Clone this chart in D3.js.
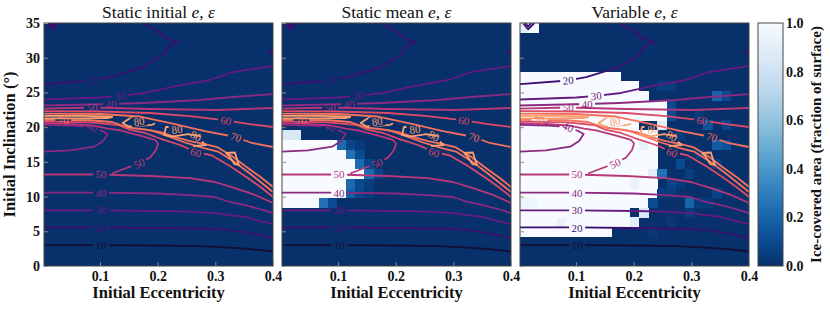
<!DOCTYPE html>
<html>
<head>
<meta charset="utf-8">
<script src="https://cdn.jsdelivr.net/npm/d3@7"></script>
<style>
body { margin: 0; background: #fff; }
text { font-family: "Liberation Serif", "Times New Roman", serif; }
</style>
</head>
<body>
<svg id="chart" width="830" height="310"></svg>
<script>
// ---- data ----
var panelTitles = ["Static initial", "Static mean", "Variable"];
var eccTicks = [0.1, 0.2, 0.3, 0.4];
var incTicks = [0, 5, 10, 15, 20, 25, 30, 35];
var iceTicks = [0.0, 0.2, 0.4, 0.6, 0.8, 1.0];
var eccDomain = [0.003, 0.4];
var incDomain = [0, 35];
var nCells = 25; // 25 x 25 simulation grid

// ice cover cells: [row (from bottom), firstCol, lastCol, fraction]
var initialCells = [];
var meanCells = [
    [6, 0, 3, 1], [6, 4, 4, 0.25], [6, 5, 5, 0.1],
    [7, 0, 6, 1], [7, 7, 7, 0.18], [7, 8, 8, 0.08], [7, 9, 9, 0.04],
    [8, 0, 6, 1], [8, 7, 7, 0.22], [8, 8, 8, 0.1], [8, 9, 9, 0.05],
    [9, 0, 8, 1], [9, 9, 9, 0.22], [9, 10, 10, 0.07],
    [10, 0, 7, 1], [10, 8, 8, 0.22], [10, 9, 9, 0.08],
    [11, 0, 6, 1], [11, 7, 7, 0.25], [11, 8, 8, 0.1],
    [12, 0, 5, 1], [12, 6, 6, 0.22], [12, 7, 7, 0.08], [12, 8, 8, 0.04],
    [13, 0, 1, 0.85]
];
var variableCells = [
    [3, 0, 9, 1], [3, 14, 14, 0.03],
    [4, 0, 11, 1], [4, 4, 4, 0.93], [4, 12, 12, 0.9], [4, 16, 16, 0.03],
    [5, 0, 11, 1], [5, 13, 13, 0.85], [5, 18, 18, 0.04],
    [6, 0, 13, 1], [6, 0, 1, 0.95], [6, 14, 14, 0.1], [6, 18, 18, 0.2], [6, 19, 20, 0.04],
    [7, 0, 14, 1], [7, 15, 16, 0.05], [7, 21, 21, 0.07],
    [8, 0, 14, 1], [8, 12, 12, 0.93], [8, 16, 16, 0.07], [8, 17, 17, 0.04],
    [9, 0, 14, 1], [9, 14, 14, 0.9], [9, 15, 15, 0.25], [9, 18, 18, 0.05],
    [10, 0, 14, 1], [10, 17, 17, 0.1], [10, 21, 21, 0.05],
    [11, 0, 14, 1], [11, 19, 19, 0.04],
    [12, 0, 14, 1], [12, 13, 13, 0.92], [12, 21, 21, 0.17], [12, 22, 22, 0.13],
    [13, 0, 14, 1], [13, 17, 17, 0.04],
    [14, 0, 12, 1], [14, 15, 15, 0.9], [14, 20, 20, 0.13], [14, 22, 22, 0.08],
    [15, 0, 15, 1], [15, 16, 16, 0.1], [15, 19, 19, 0.04],
    [16, 0, 15, 1], [16, 16, 16, 0.1],
    [17, 0, 13, 1], [17, 21, 21, 0.2], [17, 22, 22, 0.1],
    [18, 0, 12, 1], [18, 15, 16, 0.05],
    [19, 0, 10, 1],
    [24, 0, 0, 0.9], [24, 1, 1, 1]
];
var panelCells = [initialCells, meanCells, variableCells];

// contour lines (same field in every panel): points are [eccentricity, inclination]
// labs: [e, i, rotation]
var contours = [
    {level: 10, pts: [[0.003, 3.0], [0.1, 3.0], [0.2, 2.95], [0.273, 2.85], [0.325, 2.66], [0.36, 2.45], [0.4, 2.09]], labs: [[0.102, 2.95, 0]]},
    {level: 20, pts: [[0.003, 5.55], [0.1, 5.55], [0.2, 5.47], [0.273, 5.40], [0.325, 5.19], [0.36, 4.75], [0.4, 4.03]], labs: [[0.102, 5.47, 0]]},
    {level: 30, pts: [[0.003, 8.02], [0.1, 8.02], [0.2, 7.92], [0.249, 7.85], [0.299, 7.63], [0.351, 7.06], [0.377, 6.48], [0.4, 6.05]], labs: [[0.102, 8.0, 0]]},
    {level: 40, pts: [[0.003, 10.56], [0.1, 10.56], [0.2, 10.44], [0.249, 10.23], [0.299, 9.94], [0.325, 9.22], [0.35, 8.79], [0.377, 8.21], [0.4, 7.63]], labs: [[0.102, 10.51, 0]]},
    {level: 50, pts: [[0.003, 13.18], [0.1, 13.18], [0.187, 12.96], [0.256, 12.67], [0.299, 12.10], [0.334, 11.23], [0.369, 10.23], [0.4, 9.07]], labs: [[0.102, 13.18, 0]]},
    {level: 50, pts: [[0.1211, 13.32], [0.1436, 14.04], [0.1678, 14.76], [0.1869, 15.63], [0.1972, 16.71], [0.2007, 17.64], [0.1955, 18.15], [0.1696, 18.79], [0.1349, 19.52], [0.1142, 19.80], [0.0865, 20.24], [0.0484, 20.45], [0.003, 20.57]], labs: [[0.168, 14.76, -25]]},
    {level: 40, pts: [[0.003, 16.46], [0.048, 16.64], [0.09, 17.18], [0.1055, 18.0], [0.1133, 19.01], [0.1038, 19.44], [0.0865, 20.02], [0.048, 20.24], [0.003, 20.34]], labs: [[0.0865, 20.02, 25]]},
    {level: 60, pts: [[0.003, 20.84], [0.083, 20.70], [0.1315, 20.31], [0.1522, 19.59], [0.1782, 19.16], [0.2042, 18.36], [0.2388, 17.43], [0.2664, 16.42], [0.2941, 15.92], [0.3253, 14.40], [0.3564, 12.67], [0.3806, 11.23], [0.4, 9.94]], labs: [[0.2664, 16.35, 17]]},
    {level: 70, pts: [[0.003, 21.06], [0.083, 20.99], [0.1211, 20.74], [0.1488, 19.95], [0.1782, 19.66], [0.2076, 19.23], [0.2353, 18.44], [0.2561, 18.0], [0.282, 17.57], [0.3045, 17.07], [0.3287, 15.84], [0.3564, 14.12], [0.3806, 12.67], [0.4, 11.38]], labs: [[0.0363, 21.05, 0]]},
    {level: 70, pts: [[0.1869, 19.59], [0.2145, 18.80], [0.2474, 17.79], [0.2785, 17.0], [0.3045, 16.49], [0.3322, 15.05], [0.3599, 13.32], [0.3806, 11.95], [0.4, 10.66]], labs: []},
    {level: 80, pts: [[0.003, 21.63], [0.0657, 21.63], [0.1142, 21.56], [0.1211, 21.46], [0.1142, 21.32], [0.0657, 21.27], [0.003, 21.27]], labs: []},
    {level: 20, pts: [[0.003, 26.21], [0.0865, 26.72], [0.1176, 27.22], [0.1747, 28.66], [0.2093, 30.39], [0.2215, 31.83], [0.2353, 32.19], [0.218, 32.70], [0.199, 33.85], [0.1747, 35.0]], labs: [[0.0865, 26.72, -5]]},
    {level: 20, pts: [[0.008, 35], [0.017, 34.1], [0.028, 35]], labs: []},
    {level: 20, pts: [[0.012, 35], [0.017, 34.5], [0.023, 35]], labs: []},
    {level: 20, pts: [[0.4, 31.1], [0.394, 30.8], [0.4, 30.4]], labs: []},
    {level: 30, pts: [[0.003, 23.98], [0.1003, 24.27], [0.1349, 24.49], [0.1782, 24.92], [0.2336, 25.93], [0.2907, 26.79], [0.3304, 27.94], [0.4, 28.81]], labs: [[0.1349, 24.49, -5]]},
    {level: 40, pts: [[0.003, 23.12], [0.1176, 23.33], [0.1747, 23.48], [0.2734, 23.91], [0.3304, 24.34], [0.4, 24.77]], labs: [[0.1194, 23.28, -2]]},
    {level: 50, pts: [[0.003, 22.68], [0.0865, 22.83], [0.1869, 22.61], [0.3028, 22.47], [0.4, 22.76]], labs: [[0.0865, 22.83, 0]]},
    {level: 60, pts: [[0.003, 22.32], [0.1003, 22.25], [0.1869, 22.04], [0.2561, 21.60], [0.3183, 20.96], [0.3599, 20.45], [0.4, 20.02]], labs: [[0.3183, 20.92, 8]]},
    {level: 70, pts: [[0.003, 21.96], [0.1003, 21.89], [0.1696, 21.53], [0.2301, 20.45], [0.282, 19.44], [0.3356, 18.58], [0.3633, 17.72], [0.4, 17.14]], labs: [[0.3356, 18.55, 18]]},
    {level: 80, pts: [[0.1799, 20.81], [0.154, 21.39], [0.1393, 20.60], [0.1497, 20.09], [0.1903, 20.34], [0.1955, 20.52]], labs: [[0.1678, 20.81, -8]]},
    {level: 80, pts: [[0.2353, 20.09], [0.2145, 20.02], [0.2111, 18.87], [0.2249, 18.65], [0.2526, 19.01], [0.2734, 18.72]], labs: [[0.2336, 19.66, -8]]},
    {level: 80, pts: [[0.2612, 17.28], [0.2837, 17.43], [0.2751, 18.0]], labs: [[0.2664, 18.72, 28]]},
    {level: 80, pts: [[0.3183, 16.28], [0.3339, 16.35], [0.3408, 14.55], [0.333, 14.69], [0.3235, 15.92], [0.3183, 16.28]], labs: []}
];

// ---- layout ----
var width = 229, height = 243, panelTop = 23;
var panelLeft = [44, 282, 520];
var barLeft = 758, barWidth = 25;

var svg = d3.select("#chart");
var defs = svg.append("defs");

var x = d3.scaleLinear().domain(eccDomain).range([0, width]);
var y = d3.scaleLinear().domain(incDomain).range([height, 0]);
var ice = function (v) { return d3.interpolateBlues(1 - v); };
var levelColor = function (l) { return d3.interpolateMagma(l / 100); };

var eEdges = d3.range(nCells + 1).map(function (k) {
    return eccDomain[0] + k * (eccDomain[1] - eccDomain[0]) / nCells;
});
var iEdges = d3.range(nCells + 1).map(function (k) {
    return incDomain[0] + k * (incDomain[1] - incDomain[0]) / nCells;
});

function buildGrid(cells) {
    var g = d3.range(nCells).map(function () {
        return d3.range(nCells).map(function () { return 0; });
    });
    cells.forEach(function (c) {
        for (var k = c[1]; k <= c[2]; k++) g[c[0]][k] = c[3];
    });
    return g;
}

var line = d3.line()
    .x(function (d) { return x(d[0]); })
    .y(function (d) { return y(d[1]); });

defs.append("clipPath").attr("id", "clip")
    .append("rect").attr("width", width).attr("height", height);

// masks that break the contour lines under their labels
contours.forEach(function (c, ci) {
    if (!c.labs.length) return;
    var m = defs.append("mask").attr("id", "m" + ci)
        .attr("maskUnits", "userSpaceOnUse")
        .attr("x", -10).attr("y", -10)
        .attr("width", width + 20).attr("height", height + 20);
    m.append("rect").attr("x", -10).attr("y", -10)
        .attr("width", width + 20).attr("height", height + 20)
        .attr("fill", "white");
    c.labs.forEach(function (l) {
        var px = x(l[0]), py = y(l[1]);
        m.append("rect")
            .attr("x", px - 8).attr("y", py - 5)
            .attr("width", 16).attr("height", 10)
            .attr("transform", "rotate(" + l[2] + "," + px + "," + py + ")")
            .attr("fill", "black");
    });
});

panelTitles.forEach(function (title, pi) {
    var g = svg.append("g")
        .attr("transform", "translate(" + panelLeft[pi] + "," + panelTop + ")");

    var inner = g.append("g").attr("clip-path", "url(#clip)");
    inner.append("rect")
        .attr("width", width).attr("height", height)
        .attr("fill", ice(0));

    var grid = buildGrid(panelCells[pi]);
    var cellData = [];
    grid.forEach(function (row, r) {
        row.forEach(function (v, c) {
            if (v > 0) cellData.push({r: r, c: c, v: v});
        });
    });
    inner.selectAll(".cell")
        .data(cellData)
        .enter().append("rect")
        .attr("class", "cell")
        .attr("x", function (d) { return x(eEdges[d.c]); })
        .attr("y", function (d) { return y(iEdges[d.r + 1]); })
        .attr("width", function (d) { return x(eEdges[d.c + 1]) - x(eEdges[d.c]) + 0.4; })
        .attr("height", function (d) { return y(iEdges[d.r]) - y(iEdges[d.r + 1]) + 0.4; })
        .attr("fill", function (d) { return ice(d.v); })
        .attr("shape-rendering", "crispEdges");

    // contour lines
    inner.selectAll(".contour")
        .data(contours)
        .enter().append("path")
        .attr("class", "contour")
        .attr("d", function (d) { return line(d.pts); })
        .attr("mask", function (d, ci) { return d.labs.length ? "url(#m" + ci + ")" : null; })
        .style("fill", "none")
        .style("stroke", function (d) { return levelColor(d.level); })
        .style("stroke-width", 1.8)
        .style("stroke-linejoin", "round");

    contours.forEach(function (c) {
        c.labs.forEach(function (l) {
            var px = x(l[0]), py = y(l[1]);
            inner.append("text")
                .attr("x", px).attr("y", py)
                .attr("dy", "0.35em")
                .attr("text-anchor", "middle")
                .attr("transform", "rotate(" + l[2] + "," + px + "," + py + ")")
                .style("font-size", "11px")
                .style("fill", levelColor(c.level))
                .text(c.level);
        });
    });

    g.append("rect")
        .attr("width", width).attr("height", height)
        .attr("fill", "none")
        .attr("stroke", "#444")
        .attr("stroke-width", 1);

    // axes
    var xAxis = g.append("g")
        .attr("class", "x axis")
        .attr("transform", "translate(0," + height + ")")
        .call(d3.axisBottom(x).tickValues(eccTicks).tickSize(-4).tickPadding(5).tickFormat(d3.format(".1f")));
    var yAxis = g.append("g")
        .attr("class", "y axis")
        .call(d3.axisLeft(y).tickValues(incTicks).tickSize(-4).tickPadding(4)
            .tickFormat(pi === 0 ? d3.format("d") : function () { return ""; }));
    [xAxis, yAxis].forEach(function (a) {
        a.select(".domain").remove();
        a.selectAll("line").attr("stroke", "#8a8a8a");
        a.selectAll("text")
            .attr("fill", "#111")
            .style("font-size", "14px")
            .style("font-weight", "bold")
            .style("font-family", "'Liberation Serif', serif");
    });

    var t = g.append("text")
        .attr("x", width / 2).attr("y", -5)
        .attr("text-anchor", "middle")
        .style("font-size", "17.5px")
        .style("fill", "#111");
    t.append("tspan").text(title + " ");
    t.append("tspan").style("font-style", "italic").text("e");
    t.append("tspan").text(", ");
    t.append("tspan").style("font-style", "italic").text("ε");

    g.append("text")
        .attr("x", width / 2).attr("y", 275)
        .attr("text-anchor", "middle")
        .style("font-size", "16.5px")
        .style("font-weight", "bold")
        .style("fill", "#111")
        .text("Initial Eccentricity");
});

svg.append("text")
    .attr("transform", "translate(15," + (panelTop + height / 2) + ") rotate(-90)")
    .attr("text-anchor", "middle")
    .style("font-size", "16.5px")
    .style("font-weight", "bold")
    .style("fill", "#111")
    .text("Initial Inclination (°)");

// colorbar
var grad = defs.append("linearGradient").attr("id", "iceGrad")
    .attr("x1", 0).attr("y1", 1).attr("x2", 0).attr("y2", 0);
d3.range(0, 1.0001, 0.05).forEach(function (v) {
    grad.append("stop").attr("offset", v).attr("stop-color", ice(v));
});
var cy = d3.scaleLinear().domain([0, 1]).range([height, 0]);
var bar = svg.append("g").attr("transform", "translate(" + barLeft + "," + panelTop + ")");
bar.append("rect")
    .attr("width", barWidth).attr("height", height)
    .attr("fill", "url(#iceGrad)")
    .attr("stroke", "#444");
var cAxis = bar.append("g")
    .attr("transform", "translate(" + barWidth + ",0)")
    .call(d3.axisRight(cy).tickValues(iceTicks).tickSize(0).tickPadding(3).tickFormat(d3.format(".1f")));
cAxis.select(".domain").remove();
cAxis.selectAll("text")
    .attr("fill", "#111")
    .style("font-size", "14px")
    .style("font-weight", "bold")
    .style("font-family", "'Liberation Serif', serif");

svg.append("text")
    .attr("transform", "translate(821," + (panelTop + height / 2) + ") rotate(-90)")
    .attr("text-anchor", "middle")
    .style("font-size", "15px")
    .style("font-weight", "bold")
    .style("fill", "#111")
    .text("Ice-covered area (fraction of surface)");
</script>
</body>
</html>
